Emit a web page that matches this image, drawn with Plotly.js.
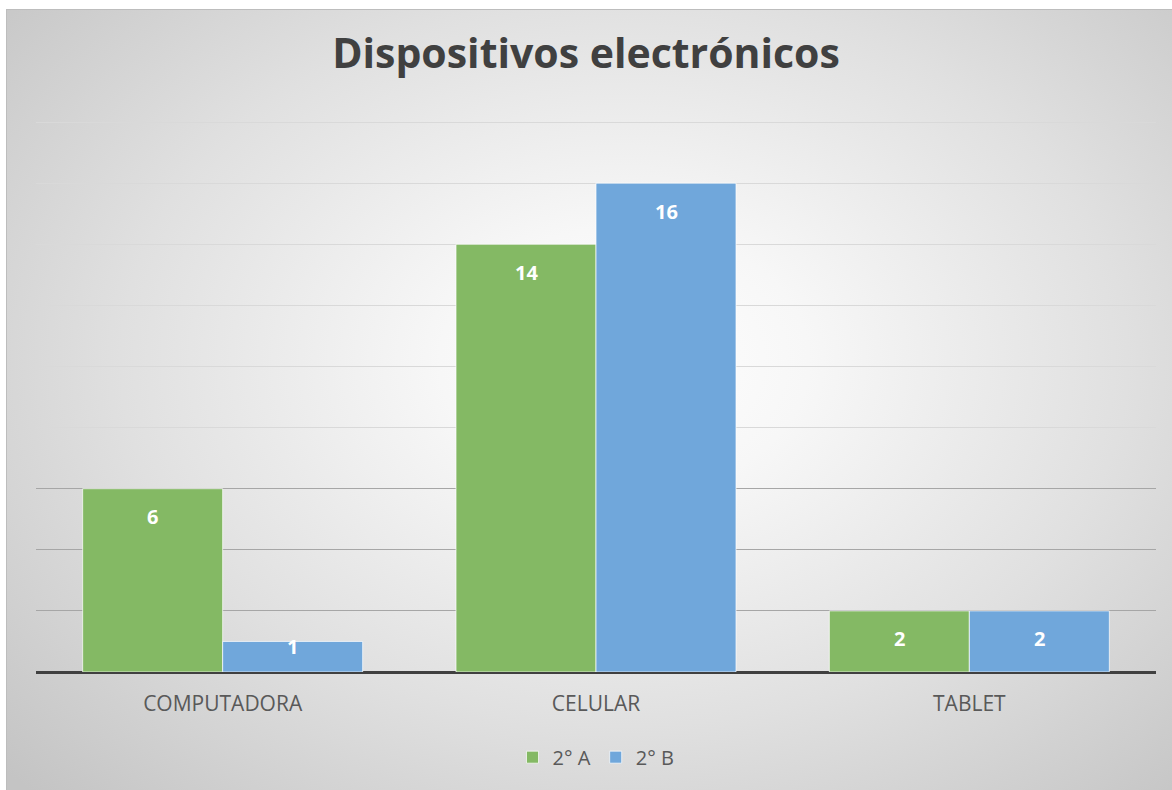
<!DOCTYPE html>
<html>
<head>
<meta charset="utf-8">
<script src="https://cdn.plot.ly/plotly-3.0.1.min.js"></script>
<style>
  html, body { margin: 0; padding: 0; background: #ffffff; }
  #frame {
    position: absolute; left: 6px; top: 9px; width: 1165px; height: 780px;
    border: 1px solid #bdbdbd;
    background: radial-gradient(ellipse 72% 78% at 53% 45%, #ffffff 0%, #f7f7f7 22%, #e0e0e0 60%, #c4c4c4 100%);
  }
  #chart { position: absolute; left: 0; top: 0; width: 1172px; height: 790px; }
</style>
</head>
<body>
<div id="frame"></div>
<div id="chart"></div>
<script>
// ---- data ----
const categories = ["COMPUTADORA", "CELULAR", "TABLET"];
const seriesNames = ["2° A", "2° B"];
const valuesA = [6, 14, 2];
const valuesB = [1, 16, 2];
const yTicks = [0, 2, 4, 6, 8, 10, 12, 14, 16, 18];
const darkGridTicks = [2, 4, 6];
const yRange = [0, 18.1];

// ---- style ----
const colors = ["#84b964", "#70a7db"];
const bargap = 0.25;
const fontFamily = "'Open Sans', 'Noto Sans', sans-serif";

const allValues = [valuesA, valuesB];
const traces = allValues.map((vals, i) => ({
  type: "bar",
  name: seriesNames[i],
  x: categories,
  y: vals,
  marker: { color: colors[i], line: { color: "rgba(255,255,255,0.7)", width: 1 } },
  hoverinfo: "skip"
}));

// data labels as annotations derived from the data
const barW = (1 - bargap) / 2;
const annotations = [];
allValues.forEach((vals, i) => {
  vals.forEach((v, j) => {
    annotations.push({
      x: j + (i - 0.5) * barW,
      y: v,
      xref: "x", yref: "y",
      text: "<b>" + v + "</b>",
      showarrow: false,
      yanchor: "middle",
      yshift: v >= 2 ? -28 : -5,
      font: { family: fontFamily, size: 20, color: "#ffffff" }
    });
  });
});

const layout = {
  width: 1172, height: 790,
  margin: { l: 36, r: 16, t: 119, b: 118 },
  paper_bgcolor: "rgba(0,0,0,0)",
  plot_bgcolor: "rgba(0,0,0,0)",
  title: {
    text: "<b>Dispositivos electrónicos</b>",
    x: 0.5, xref: "container", xanchor: "center",
    y: 1 - 54 / 790, yref: "container", yanchor: "middle",
    font: { family: fontFamily, size: 41, color: "#404040" }
  },
  barmode: "group",
  bargap: bargap,
  bargroupgap: 0,
  showlegend: true,
  legend: {
    orientation: "h",
    x: 0.5, xanchor: "center",
    y: -0.154, yanchor: "middle",
    font: { family: fontFamily, size: 20, color: "#595959" },
    bgcolor: "rgba(0,0,0,0)",
    itemclick: false
  },
  xaxis: {
    type: "category",
    showgrid: false,
    showline: false,
    zeroline: false,
    ticks: "",
    ticklabelstandoff: 17,
    tickfont: { family: fontFamily, size: 21, color: "#595959" },
    range: [-0.5, categories.length - 0.5]
  },
  yaxis: {
    range: yRange,
    tickvals: yTicks,
    showticklabels: false,
    showgrid: true,
    gridcolor: "#d9d9d9",
    gridwidth: 1,
    zeroline: true,
    zerolinecolor: "#404040",
    zerolinewidth: 3,
    showline: false,
    ticks: ""
  },
  yaxis2: {
    overlaying: "y",
    range: yRange,
    tickvals: darkGridTicks,
    showticklabels: false,
    showgrid: true,
    gridcolor: "#a6a6a6",
    gridwidth: 1,
    zeroline: false,
    showline: false,
    ticks: "",
    layer: "below traces"
  },
  annotations: annotations
};

// an invisible trace to activate yaxis2 gridlines
traces.push({
  type: "scatter", x: [categories[0]], y: [0], yaxis: "y2",
  mode: "markers", marker: { opacity: 0 }, showlegend: false, hoverinfo: "skip"
});

Plotly.newPlot("chart", traces, layout, { displayModeBar: false, staticPlot: true });
</script>
</body>
</html>
